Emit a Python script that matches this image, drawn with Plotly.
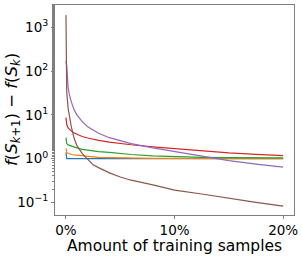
import plotly.graph_objects as go

pct = [0, 0.07, 0.2, 0.3, 0.5, 0.75, 1, 1.5, 2, 2.5, 3, 4, 5, 6, 8, 10, 12.5, 15, 17.5, 20]

blue   = [1.39, 1.0, 1.0, 1.0, 1.0, 1.0, 1.0, 1.0, 1.0, 1.0, 1.0, 1.0, 1.0, 1.0, 1.0, 1.0, 1.0, 1.0, 1.0, 1.0]
orange = [1.7, 1.38, 1.32, 1.28, 1.24, 1.21, 1.19, 1.15, 1.12, 1.09, 1.07, 1.05, 1.035, 1.025, 1.015, 1.01, 1.005, 1.0, 1.0, 1.0]
green  = [3.0, 2.2, 2.05, 2.0, 1.92, 1.83, 1.75, 1.62, 1.54, 1.48, 1.44, 1.38, 1.3, 1.24, 1.15, 1.1, 1.07, 1.05, 1.045, 1.04]
red    = [8.7, 6.0, 5.0, 4.7, 4.25, 3.85, 3.6, 3.2, 2.95, 2.75, 2.6, 2.38, 2.2, 2.07, 1.85, 1.68, 1.48, 1.35, 1.25, 1.17]
purple = [170, 130, 42, 30, 19.5, 13, 10, 7, 5.3, 4.4, 3.8, 3.0, 2.55, 2.2, 1.75, 1.45, 1.12, 0.9, 0.75, 0.64]
brown  = [1900, 33, 14, 9.9, 5.2, 2.9, 2.0, 1.3, 0.95, 0.72, 0.62, 0.47, 0.38, 0.32, 0.25, 0.19, 0.155, 0.123, 0.1, 0.082]

series = [blue, orange, green, red, purple, brown]
colors = ["#1f77b4", "#ff7f0e", "#2ca02c", "#d62728", "#9467bd", "#8c564b"]

xtick_vals = [0, 10, 20]
xtick_text = ["0%", "10%", "20%"]
ytick_vals = [0.1, 1, 10, 100, 1000]
ytick_text = ["10<sup>−1</sup>", "10<sup>0</sup>", "10<sup>1</sup>", "10<sup>2</sup>", "10<sup>3</sup>"]

x_title = "Amount of training samples"
y_title = "<i>f</i>(<i>S</i><sub><i>k</i>+1</sub>) − <i>f</i>(<i>S</i><sub><i>k</i></sub>)"

fig = go.Figure()
for s, c in zip(series, colors):
    fig.add_trace(go.Scatter(x=pct, y=s, mode="lines", line=dict(color=c, width=1.2),
                             showlegend=False, hoverinfo="skip"))

axis_color = "#7f7f7f"
fig.update_layout(
    width=302, height=262,
    margin=dict(l=55, r=8, t=5, b=47),
    paper_bgcolor="white", plot_bgcolor="white",
    font=dict(family="DejaVu Sans", color="black"),
)
fig.update_xaxes(
    range=[-1.01, 21.0], tickvals=xtick_vals, ticktext=xtick_text,
    showgrid=False, zeroline=False, automargin=False,
    showline=True, linecolor=axis_color, linewidth=1, mirror=True,
    ticks="outside", ticklen=3, tickcolor=axis_color,
    tickfont=dict(size=13.5),
)
fig.update_yaxes(
    type="log", range=[-1.29, 3.51], tickvals=ytick_vals, ticktext=ytick_text,
    showgrid=False, zeroline=False, automargin=False,
    showline=True, linecolor=axis_color, linewidth=1, mirror=True,
    ticks="outside", ticklen=3, tickcolor=axis_color,
    tickfont=dict(size=13.5),
    minor=dict(ticks="outside", ticklen=2, tickcolor=axis_color, showgrid=False),
)
fig.add_annotation(text=x_title, xref="paper", yref="paper", x=0.5, y=-31 / 210,
                   xanchor="center", yanchor="middle", showarrow=False,
                   font=dict(size=15.5))
fig.add_annotation(text=y_title, xref="paper", yref="paper", x=-43 / 239, y=0.5,
                   xanchor="center", yanchor="middle", showarrow=False, textangle=-90,
                   font=dict(size=16.5))

fig.write_html("out.html", config={"displayModeBar": False},
               post_script="document.body.style.margin='0px';")
